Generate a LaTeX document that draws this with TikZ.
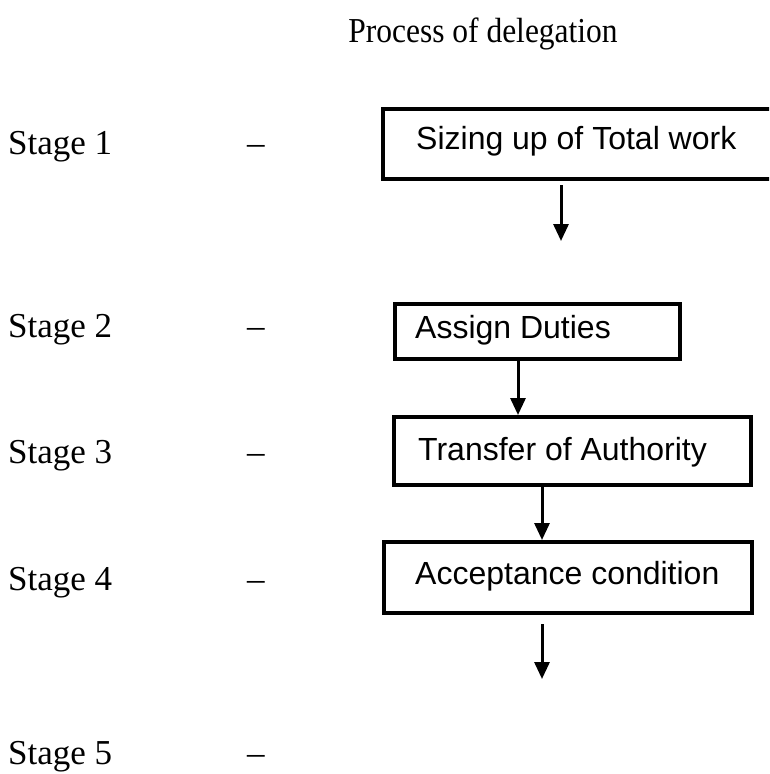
\documentclass[tikz,border=0pt]{standalone}
\usepackage{fontspec}
\setmainfont{Liberation Serif}
\newfontfamily\boxfont{Liberation Sans}
\usetikzlibrary{arrows.meta}
\begin{document}
\begin{tikzpicture}[x=1pt,y=-1pt,
  stagelbl/.style={anchor=base west,inner sep=0pt,font=\fontsize{35}{40}\selectfont},
  stagebox/.style={draw,line width=3.5pt,anchor=north west,inner sep=0pt},
  boxtext/.style={anchor=base west,inner sep=0pt,font=\boxfont\fontsize{32}{38}\selectfont},
  flow/.style={line width=3pt,-{Triangle[width=15pt,length=17pt]}}]
\clip (0,0) rectangle (769,774);
\fill[white] (0,0) rectangle (769,774);

% title
\node[anchor=base,inner sep=0pt,font=\fontsize{35}{40}\selectfont,xscale=0.9] (title) at (483,42) {Process of delegation};

% stage labels and dashes
\foreach \n/\y in {1/154,2/337,3/463,4/590,5/764}{
  \node[stagelbl] (s\n) at (8,\y) {Stage \n};
  \node[stagelbl] (d\n) at (247,\y) {--};
}

% boxes
\node[stagebox,minimum width=420pt,minimum height=70pt] (b1) at (381,107) {};
\node[stagebox,minimum width=285pt,minimum height=55pt] (b2) at (393,302) {};
\node[stagebox,minimum width=357pt,minimum height=68pt] (b3) at (392,415) {};
\node[stagebox,minimum width=368pt,minimum height=71pt] (b4) at (382,540) {};

\node[boxtext] (t1) at (416,149) {Sizing up of Total work};
\node[boxtext] (t2) at (415,338) {Assign Duties};
\node[boxtext] (t3) at (418,460) {Transfer of Authority};
\node[boxtext] (t4) at (415,584) {Acceptance condition};

% arrows
\coordinate (a1s) at (561,185);
\coordinate (a1e) at (561,241);
\coordinate (a4s) at (542,624);
\coordinate (a4e) at (542,679);
\draw[flow] (a1s) -- (a1e);
\draw[flow] (b2.south -| 518,0) -- (b3.north -| 518,0);
\draw[flow] (b3.south -| 542,0) -- (b4.north -| 542,0);
\draw[flow] (a4s) -- (a4e);
\end{tikzpicture}
\end{document}
